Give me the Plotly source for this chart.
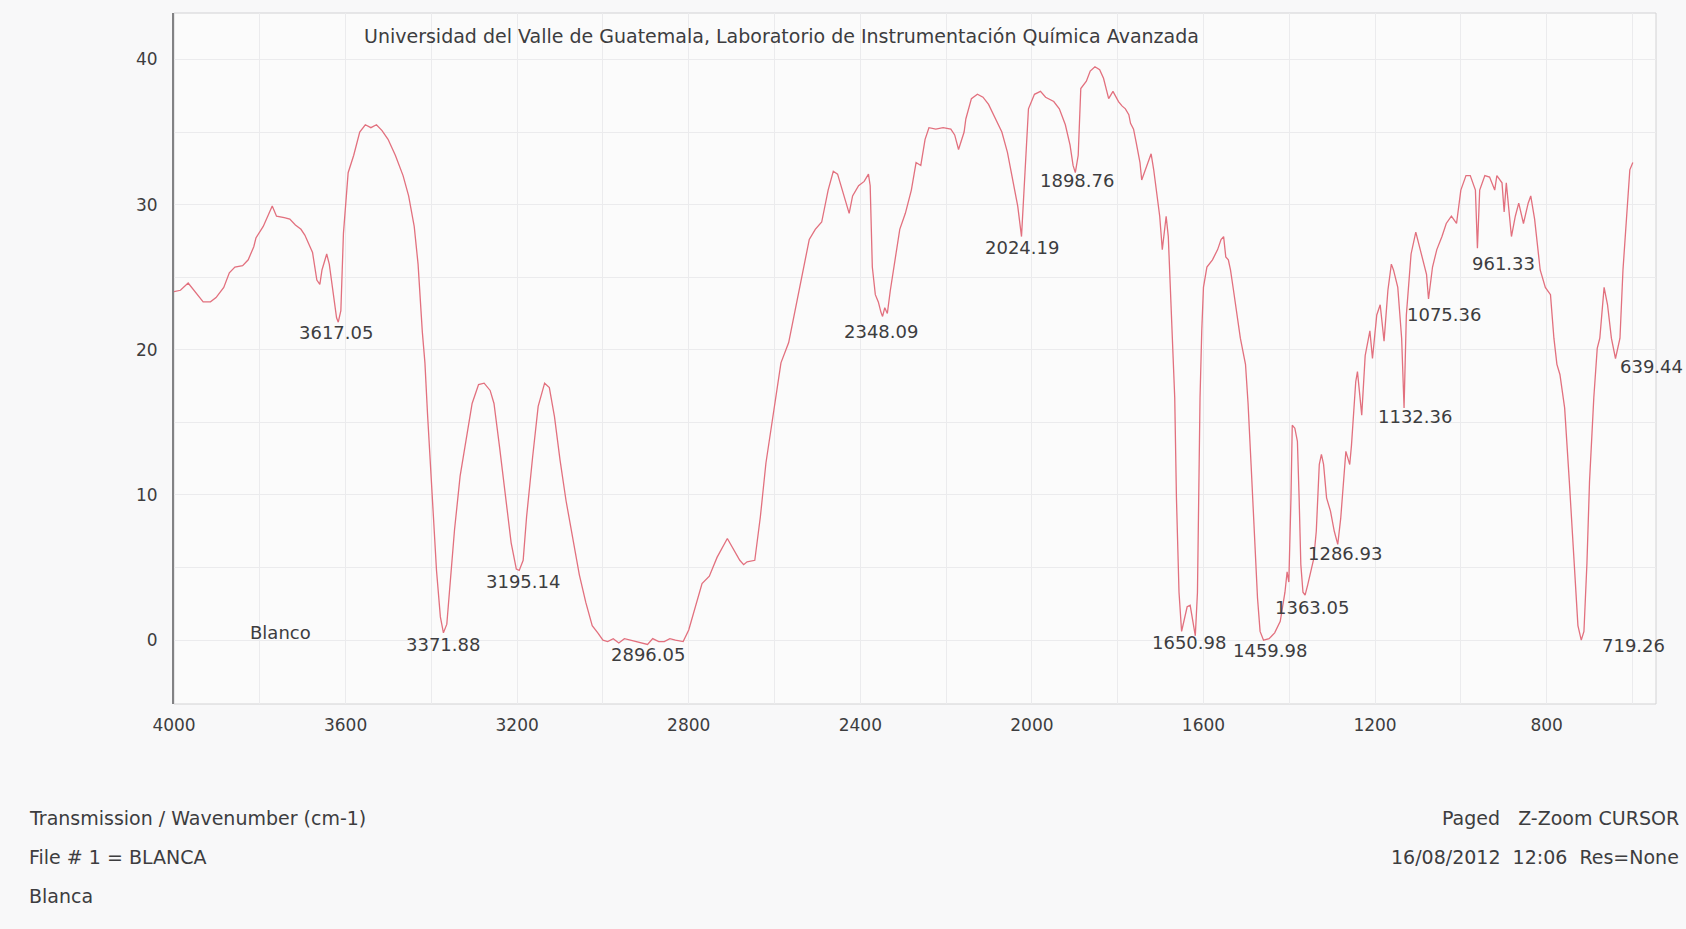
import plotly.graph_objects as go

# FTIR transmission spectrum of sample "Blanca"
# wavenumber in cm-1 (descending), transmission in %
wavenumber = [
    4000, 3985, 3967, 3954, 3932, 3915, 3902, 3884, 3871, 3858, 3840, 3827, 3814, 3809,
    3792, 3771, 3761, 3743, 3730, 3717, 3704, 3695, 3686, 3677, 3667, 3660, 3655, 3644,
    3638, 3629, 3621, 3617.05, 3611, 3605, 3594, 3581, 3567, 3554, 3541, 3528, 3515, 3501,
    3484, 3466, 3453, 3440, 3431, 3421, 3415, 3409, 3402, 3396, 3388, 3379, 3371.88, 3364,
    3355, 3346, 3333, 3319, 3305, 3290, 3277, 3263, 3254, 3241, 3227, 3214, 3202, 3195.14,
    3186, 3178, 3164, 3151, 3136, 3125, 3113, 3100, 3086, 3070, 3055, 3040, 3025, 3012,
    3000, 2989, 2976, 2963, 2950, 2936, 2922, 2910, 2896.05, 2884, 2870, 2857, 2844, 2831,
    2813, 2800, 2787, 2769, 2752, 2734, 2710, 2699, 2681, 2672, 2664, 2646, 2633, 2620,
    2602, 2585, 2567, 2549, 2532, 2519, 2505, 2490, 2475, 2463, 2453, 2440, 2426, 2418,
    2404, 2391, 2381, 2377, 2372, 2365, 2358, 2352, 2348.09, 2343, 2337, 2330, 2319, 2308,
    2295, 2281, 2270, 2259, 2249, 2240, 2224, 2207, 2189, 2180, 2171, 2165, 2158, 2154,
    2141, 2127, 2114, 2101, 2084, 2070, 2057, 2044, 2033, 2024.19, 2016, 2008, 1994, 1980,
    1968, 1949, 1936, 1922, 1911, 1904, 1898.76, 1892, 1886, 1873, 1864, 1853, 1842, 1833,
    1821, 1811, 1798, 1790, 1782, 1774, 1770, 1763, 1757, 1748, 1744, 1735, 1726, 1722,
    1716, 1709, 1702, 1696, 1692, 1687, 1682, 1678, 1672, 1667, 1663, 1657, 1650.98, 1645,
    1638, 1631, 1625, 1619, 1614, 1611, 1608, 1604, 1600, 1592, 1579, 1567, 1559, 1553,
    1548, 1542, 1537, 1530, 1522, 1514, 1502, 1496, 1489, 1481, 1474, 1468, 1459.98, 1447,
    1434, 1421, 1410, 1405, 1401, 1396, 1393, 1387, 1381, 1377, 1373, 1368, 1363.05, 1357,
    1350, 1343, 1337, 1330, 1325, 1320, 1313, 1304, 1295, 1286.93, 1280, 1272, 1268, 1261,
    1259, 1255, 1245, 1241, 1234, 1231, 1223, 1212, 1206, 1196, 1188, 1179, 1170, 1162,
    1157, 1147, 1138, 1132.36, 1127, 1116, 1105, 1092, 1080, 1075.36, 1066, 1056, 1044, 1034,
    1022, 1010, 1000, 988, 978, 966, 961.33, 956, 944, 933, 921, 916, 904, 899,
    894, 882, 873, 865, 854, 843, 837, 828, 815, 803, 791, 783, 776, 769,
    764, 758, 747, 736, 727, 719.26, 713, 706, 700, 690, 682, 676, 666, 658,
    649, 639.44, 629, 622, 613, 606, 599,
]
transmission = [
    24.0, 24.1, 24.6, 24.1, 23.3, 23.3, 23.6, 24.3, 25.3, 25.7, 25.8, 26.2, 27.1, 27.7,
    28.5, 29.9, 29.2, 29.1, 29.0, 28.6, 28.3, 27.9, 27.3, 26.7, 24.8, 24.5, 25.5, 26.6,
    25.9, 23.8, 22.2, 21.9, 22.7, 28.0, 32.2, 33.4, 35.0, 35.5, 35.3, 35.5, 35.1, 34.5,
    33.4, 32.0, 30.6, 28.5, 25.9, 21.2, 19.1, 15.6, 12.2, 8.5, 4.8, 1.6, 0.5, 1.1,
    4.1, 7.6, 11.3, 13.8, 16.3, 17.6, 17.7, 17.2, 16.3, 13.3, 9.9, 6.7, 4.9, 4.8,
    5.5, 8.5, 12.6, 16.1, 17.7, 17.4, 15.4, 12.4, 9.6, 7.0, 4.5, 2.6, 1.0, 0.5,
    0.0, -0.1, 0.1, -0.2, 0.1, 0.0, -0.1, -0.2, -0.3, 0.1, -0.1, -0.1, 0.1, 0.0,
    -0.1, 0.7, 2.1, 3.9, 4.4, 5.7, 7.0, 6.4, 5.5, 5.2, 5.4, 5.5, 8.5, 12.2,
    15.6, 19.1, 20.5, 23.1, 25.7, 27.6, 28.3, 28.8, 31.0, 32.3, 32.1, 30.8, 29.4, 30.6,
    31.3, 31.6, 32.1, 31.3, 25.7, 23.8, 23.3, 22.6, 22.3, 22.9, 22.5, 24.1, 26.2, 28.3,
    29.4, 31.0, 32.9, 32.7, 34.5, 35.3, 35.2, 35.3, 35.2, 34.8, 33.8, 34.3, 35.0, 35.9,
    37.3, 37.6, 37.4, 36.9, 35.9, 35.0, 33.6, 31.7, 29.9, 27.8, 32.2, 36.6, 37.6, 37.8,
    37.4, 37.1, 36.6, 35.5, 34.1, 32.7, 32.2, 33.4, 38.0, 38.5, 39.2, 39.5, 39.3, 38.7,
    37.3, 37.8, 37.1, 36.8, 36.6, 36.2, 35.6, 35.2, 34.3, 32.9, 31.7, 32.4, 33.1, 33.5,
    32.4, 30.8, 29.2, 26.9, 28.0, 29.2, 27.8, 25.0, 21.3, 16.7, 9.8, 3.3, 0.6, 1.5,
    2.3, 2.4, 1.3, 0.3, 3.3, 9.8, 16.7, 21.3, 24.3, 25.7, 26.2, 26.9, 27.6, 27.8,
    26.4, 26.2, 25.5, 24.1, 22.4, 20.8, 19.0, 16.3, 12.1, 7.5, 2.9, 0.6, 0.0, 0.1,
    0.5, 1.3, 3.3, 4.7, 4.0, 9.8, 14.8, 14.6, 13.7, 9.8, 5.2, 3.3, 3.1, 3.8,
    4.7, 5.6, 7.5, 12.1, 12.8, 12.1, 9.8, 8.9, 7.5, 6.6, 8.4, 11.6, 13.0, 12.3,
    12.1, 13.4, 17.8, 18.5, 16.7, 15.5, 19.6, 21.3, 19.4, 22.4, 23.1, 20.6, 24.1, 25.9,
    25.5, 24.3, 20.8, 16.0, 22.4, 26.6, 28.1, 26.6, 25.2, 23.5, 25.7, 26.9, 27.8, 28.7,
    29.2, 28.7, 31.0, 32.0, 32.0, 31.0, 27.0, 31.0, 32.0, 31.9, 31.0, 32.0, 31.5, 29.5,
    31.5, 27.8, 29.2, 30.1, 28.7, 30.1, 30.6, 29.0, 25.5, 24.3, 23.8, 20.8, 19.0, 18.3,
    17.1, 16.0, 10.9, 5.6, 1.0, 0.0, 0.6, 5.3, 10.9, 16.7, 20.1, 20.8, 24.3, 23.1,
    20.8, 19.4, 20.8, 25.5, 29.7, 32.4, 32.9,
]
series_name = "Blanco"

# Peaks picked on the trace (cm-1)
peak_wavenumbers = [3617.05, 3371.88, 3195.14, 2896.05, 2348.09, 2024.19, 1898.76,
                    1650.98, 1459.98, 1363.05, 1286.93, 1132.36, 1075.36, 961.33,
                    719.26, 639.44]

x_tick_values = [4000, 3600, 3200, 2800, 2400, 2000, 1600, 1200, 800]
y_tick_values = [0, 10, 20, 30, 40]

title_text = ("Universidad del Valle de Guatemala, Laboratorio de "
              "Instrumentación Química Avanzada")
footer_left = ["Transmission / Wavenumber (cm-1)", "File # 1 = BLANCA", "Blanca"]
footer_right = ["Paged   Z-Zoom CURSOR", "16/08/2012  12:06  Res=None"]

# ---- page geometry (px) ----
W, H = 1686, 929
ML, MR, MT, MB = 174, 30, 12.5, 225
PW, PH = W - ML - MR, H - MT - MB

def paper_x(px):
    return (px - ML) / PW

def paper_y(py):
    return (H - MB - py) / PH

FONT = "DejaVu Sans"
TEXT = "#3d3d3f"
LINE = "#e2707e"
GRID = "#ebebed"

fig = go.Figure()
fig.add_trace(go.Scatter(
    x=wavenumber, y=transmission, mode="lines", name=series_name,
    line=dict(color=LINE, width=1.3), hoverinfo="x+y",
))

# label placement next to each picked peak: (dx right, dy down) in px
label_offsets = {
    3617.05: (-2, 10), 3371.88: (0, 12), 3195.14: (4, 11), 2896.05: (0, 10),
    2348.09: (-2, 15), 2024.19: (0, 11), 1898.76: (2, 8), 1650.98: (7, 11),
    1459.98: (6, 10), 1363.05: (7, 12), 1286.93: (7, 9), 1132.36: (11, 9),
    1075.36: (15, 16), 961.33: (26, 15), 719.26: (52, 5),
}
annotations = []
for wn in peak_wavenumbers:
    t = transmission[wavenumber.index(wn)]
    if wn in label_offsets:
        dx, dy = label_offsets[wn]
        annotations.append(dict(x=wn, y=t, text=f"{wn:.2f}", showarrow=False,
                                xanchor="center", yanchor="middle",
                                xshift=dx, yshift=-dy,
                                font=dict(family=FONT, size=18, color=TEXT)))
    else:
        annotations.append(dict(x=wn, y=t, text=f"{wn:.2f}", showarrow=False,
                                xanchor="left", yanchor="middle",
                                xshift=3, yshift=-8,
                                font=dict(family=FONT, size=18, color=TEXT)))

# series name inside the plot
annotations.append(dict(x=3752, y=0.5, text=series_name, showarrow=False,
                        xanchor="center", yanchor="middle",
                        font=dict(family=FONT, size=18, color=TEXT)))

# header
annotations.append(dict(xref="paper", yref="paper", x=paper_x(362), y=paper_y(35.5),
                        text=title_text, showarrow=False, xanchor="left",
                        yanchor="middle", font=dict(family=FONT, size=19, color=TEXT)))

# footer
for i, txt in enumerate(footer_left):
    annotations.append(dict(xref="paper", yref="paper", x=paper_x(27),
                            y=paper_y(818 + 39 * i), text=txt, showarrow=False,
                            xanchor="left", yanchor="middle",
                            font=dict(family=FONT, size=19, color=TEXT)))
for i, txt in enumerate(footer_right):
    annotations.append(dict(xref="paper", yref="paper", x=paper_x(1681),
                            y=paper_y(818 + 39 * i), text=txt, showarrow=False,
                            xanchor="right", yanchor="middle",
                            font=dict(family=FONT, size=19, color=TEXT)))

fig.update_layout(
    width=W, height=H,
    margin=dict(l=ML, r=MR, t=MT, b=MB, pad=0),
    paper_bgcolor="#f8f8f9",
    plot_bgcolor="#fbfbfb",
    showlegend=False,
    annotations=annotations,
    shapes=[dict(type="rect", xref="paper", yref="paper", x0=0, x1=1, y0=0, y1=1,
                 line=dict(color="#d2d2d4", width=1), layer="below")],
    xaxis=dict(
        range=[4000, 545], autorange=False,
        tickmode="array", tickvals=x_tick_values,
        ticktext=[str(v) for v in x_tick_values],
        showgrid=True, gridcolor=GRID, gridwidth=1,
        minor=dict(dtick=200, tick0=0, showgrid=True, gridcolor=GRID, gridwidth=1),
        zeroline=False, showline=False, ticks="",
        ticklabelstandoff=9,
        tickfont=dict(family=FONT, size=17, color=TEXT),
    ),
    yaxis=dict(
        range=[-4.4, 43.2], autorange=False,
        tickmode="array", tickvals=y_tick_values,
        showgrid=True, gridcolor=GRID, gridwidth=1,
        minor=dict(dtick=5, tick0=0, showgrid=True, gridcolor=GRID, gridwidth=1),
        zeroline=False, showline=True, linecolor="#828284", linewidth=2,
        ticks="", ticklabelstandoff=11,
        tickfont=dict(family=FONT, size=17, color=TEXT),
    ),
)

fig.write_html("out.html", config={"displayModeBar": False})
